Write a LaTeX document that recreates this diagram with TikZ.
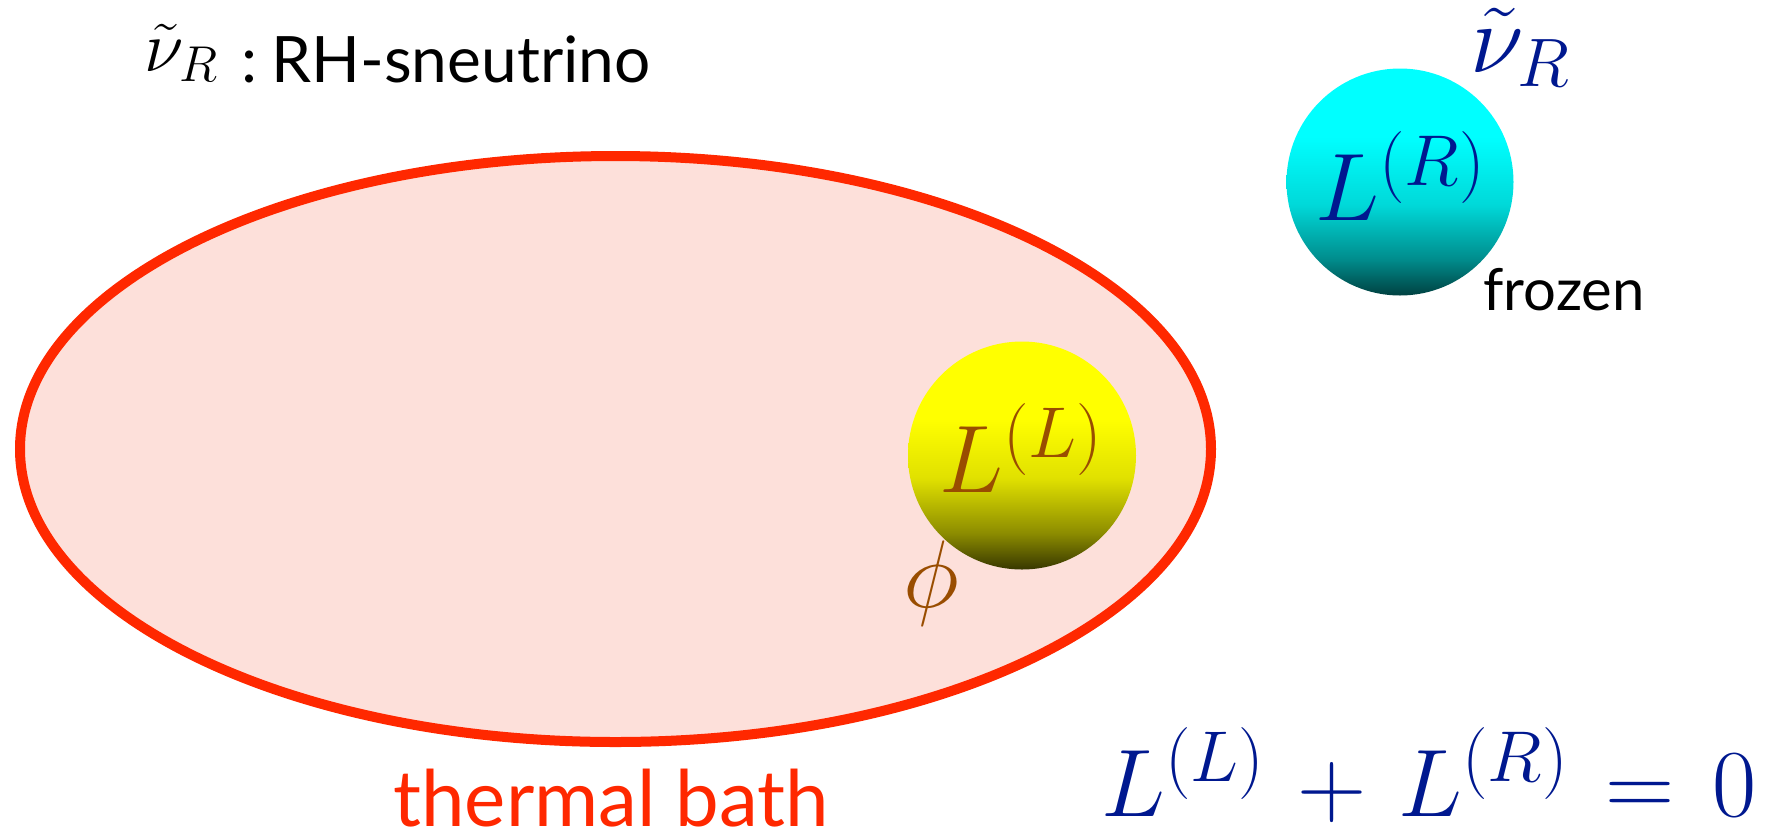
\RequirePackage{fix-cm}
\documentclass[tikz,border=0pt]{standalone}
\usepackage{fontspec}
\newfontfamily\gill{Lato}
\DeclareMathSizes{48}{48}{36}{28}
\definecolor{bathred}{RGB}{255,40,0}
\definecolor{bathfill}{RGB}{253,224,218}
\definecolor{mathblue}{RGB}{0,24,143}
\definecolor{mathbrown}{RGB}{153,77,0}
\definecolor{ydark}{RGB}{55,55,0}
\definecolor{cdark}{RGB}{0,65,65}
\pgfdeclareverticalshading{yellowball}{100bp}{color(0bp)=(ydark); color(25bp)=(ydark); color(33bp)=(yellow!55!black); color(45bp)=(yellow!88!black); color(58bp)=(yellow); color(100bp)=(yellow)}
\pgfdeclareverticalshading{cyanball}{100bp}{color(0bp)=(cdark); color(25bp)=(cdark); color(33bp)=(cyan!55!black); color(45bp)=(cyan!85!black); color(60bp)=(cyan); color(100bp)=(cyan)}
\begin{document}
\begin{tikzpicture}[x=0.5pt,y=-0.5pt,
  sanstext/.style={inner sep=0pt,anchor=base west,font=\gill},
  mathtext/.style={inner sep=0pt,anchor=base west,font=\fontsize{48}{56}\selectfont}]
\useasboundingbox (0,0) rectangle (1779,832);
% thermal bath
\draw[bathred,fill=bathfill,line width=5pt] (615.5,449) ellipse [x radius=595.5, y radius=293];
% spheres
\shade[shading=yellowball] (1022,455.5) circle [radius=114];
\shade[shading=cyanball] (1400,182) circle [radius=113.5];
% labels
\node[inner sep=0pt,anchor=base west] (nutitle) at (144,71) {\fontsize{36}{42}\selectfont$\tilde\nu_R$};
\node[sanstext] (title) at (241,82) {\fontsize{32}{39}\selectfont:\hspace{7pt}RH-sneutrino};
\node[mathtext,text=mathblue] (LR) at (1315,220) {$L^{(R)}$};
\node[mathtext,text=mathblue] (nuR) at (1470,72) {\fontsize{49}{58}\selectfont$\tilde\nu_R$};
\node[sanstext] (frozen) at (1483,310) {\fontsize{29}{35}\selectfont frozen};
\node[mathtext,text=mathbrown] (LL) at (939,492) {$L^{(L)}$};
\node[mathtext,text=mathbrown] (phi) at (903,607) {$\phi$};
\node[mathtext,text=mathblue] (eq) at (1101,816) {$\medmuskip=6mu\thickmuskip=7mu L^{(L)}+L^{(R)}=0$};
\node[sanstext,text=bathred] (bath) at (393,826) {\fontsize{39}{47}\selectfont thermal bath};
\end{tikzpicture}
\end{document}
